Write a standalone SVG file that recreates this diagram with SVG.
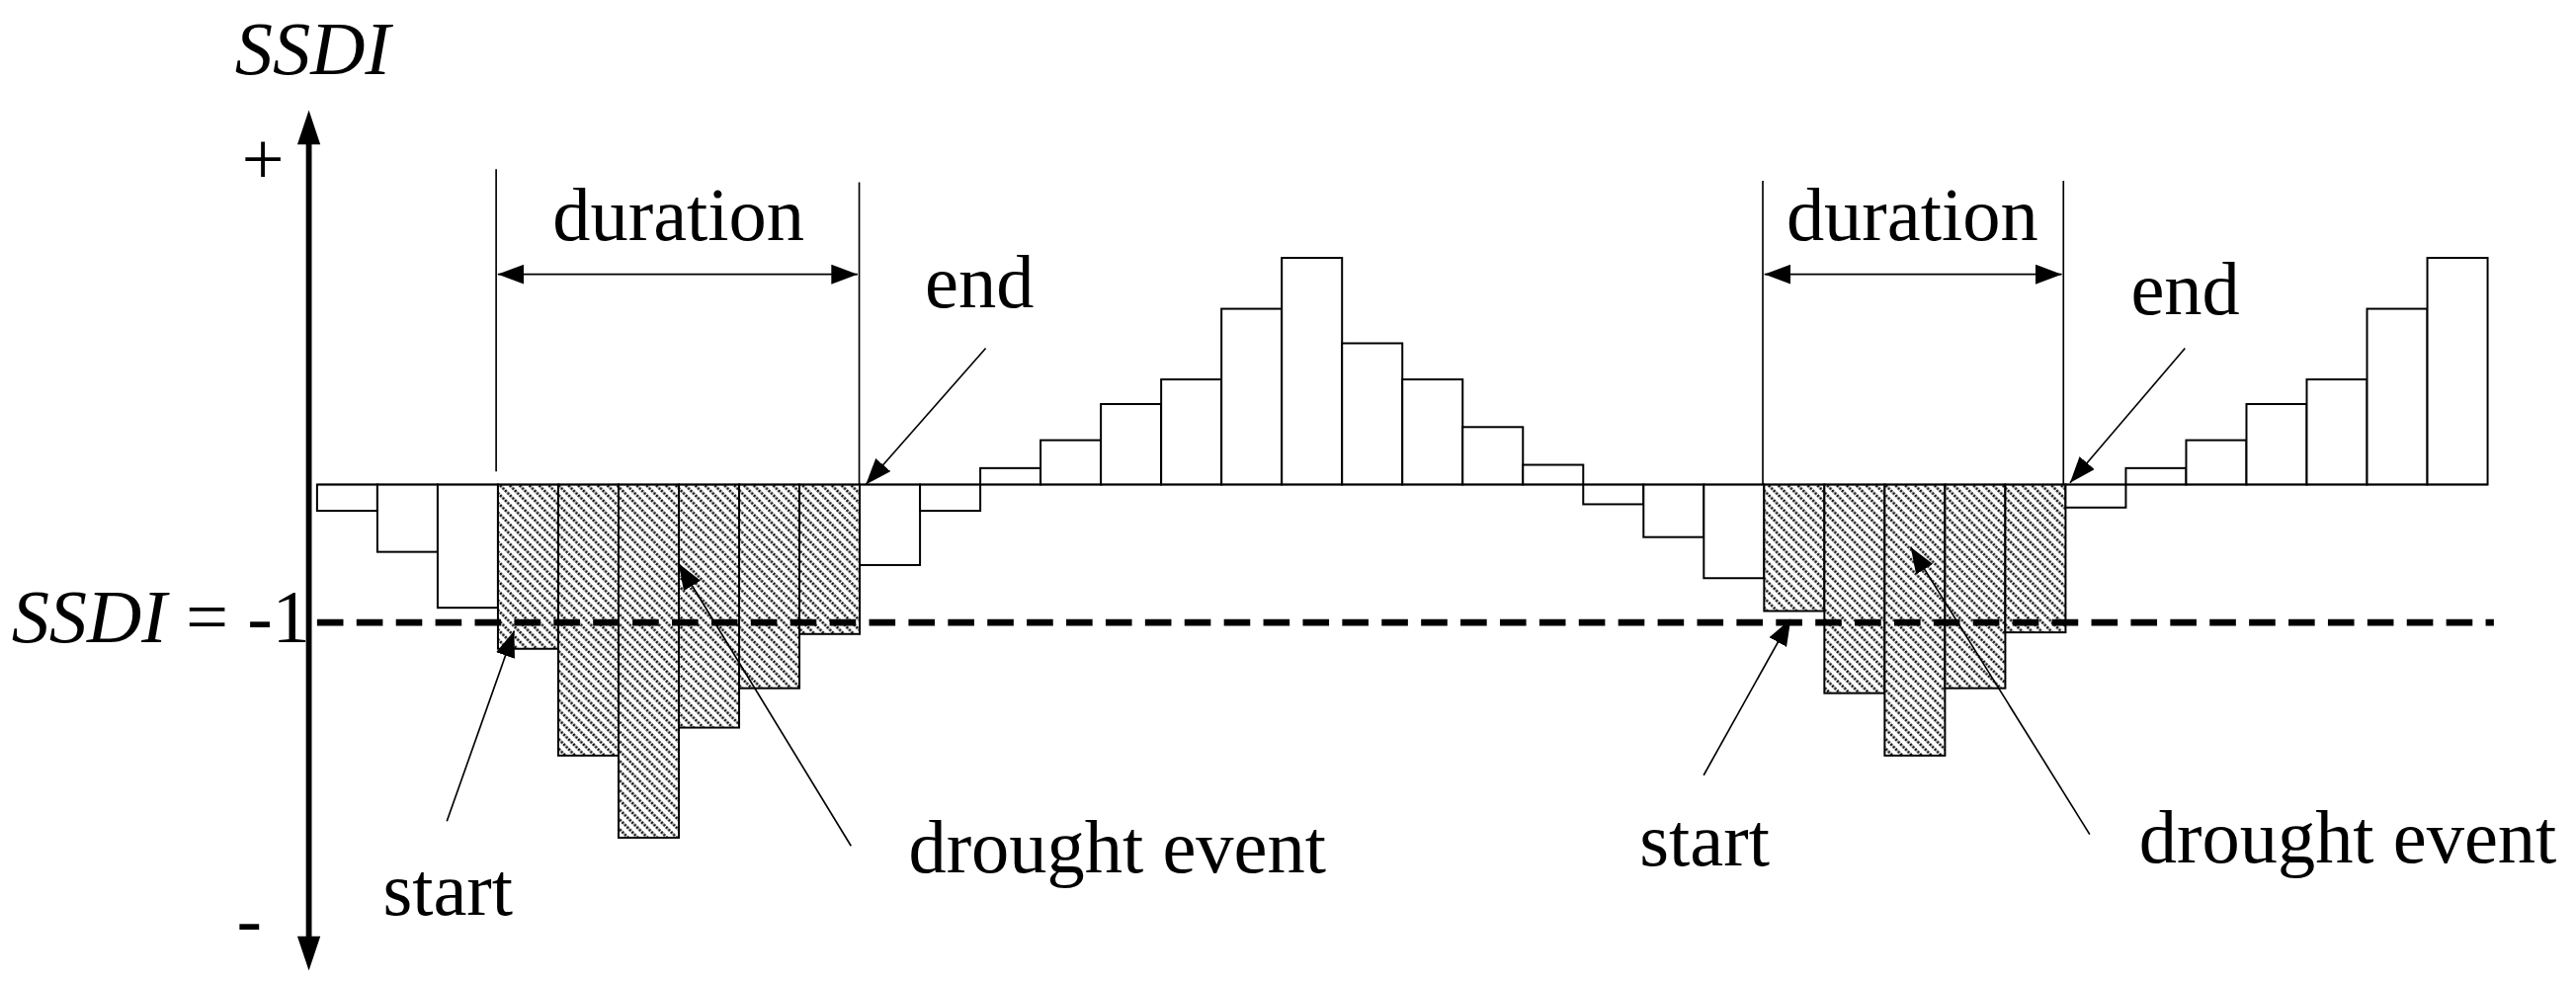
<svg xmlns="http://www.w3.org/2000/svg" width="2607" height="993" viewBox="0 0 2607 993">
<style>
.bar{fill:#fff;stroke:#000;stroke-width:1.2}
.hb{fill:url(#hatch);stroke:#000;stroke-width:1.2}
.ln{stroke:#000;stroke-width:1;fill:none}
.t{font-family:"Liberation Serif",serif;font-size:46px;fill:#000}
.i{font-style:italic}
</style>
<defs>
<pattern id="hatch" patternUnits="userSpaceOnUse" width="4.2" height="4.2" patternTransform="rotate(-45)">
<rect width="4.2" height="4.2" fill="#fff"/>
<line x1="2.1" y1="0" x2="2.1" y2="4.2" stroke="#000" stroke-width="1.5" stroke-dasharray="1.3 0.8"/>
</pattern>
<marker id="ah" markerUnits="userSpaceOnUse" markerWidth="16" markerHeight="12" refX="16" refY="6" orient="auto-start-reverse">
<path d="M0,0 L16,6 L0,12 Z" fill="#000"/>
</marker>
</defs>
<rect width="2607" height="993" fill="#fff"/>
<g transform="scale(1.66263)">
<g id="bars">
<rect class="bar" x="193" y="295" width="36.7" height="16"/>
<rect class="bar" x="229.7" y="295" width="36.7" height="41"/>
<rect class="bar" x="266.4" y="295" width="36.7" height="75"/>
<rect class="hb" x="303.1" y="295" width="36.7" height="100"/>
<rect class="hb" x="339.8" y="295" width="36.7" height="165"/>
<rect class="hb" x="376.5" y="295" width="36.7" height="215"/>
<rect class="hb" x="413.2" y="295" width="36.7" height="148"/>
<rect class="hb" x="449.9" y="295" width="36.7" height="124"/>
<rect class="hb" x="486.6" y="295" width="36.7" height="91"/>
<rect class="bar" x="523.3" y="295" width="36.7" height="49"/>
<rect class="bar" x="560" y="295" width="36.7" height="16"/>
<rect class="bar" x="596.7" y="285" width="36.7" height="10"/>
<rect class="bar" x="633.4" y="268" width="36.7" height="27"/>
<rect class="bar" x="670.1" y="246" width="36.7" height="49"/>
<rect class="bar" x="706.8" y="231" width="36.7" height="64"/>
<rect class="bar" x="743.5" y="188" width="36.7" height="107"/>
<rect class="bar" x="780.2" y="157" width="36.7" height="138"/>
<rect class="bar" x="816.9" y="209" width="36.7" height="86"/>
<rect class="bar" x="853.6" y="231" width="36.7" height="64"/>
<rect class="bar" x="890.3" y="260" width="36.7" height="35"/>
<rect class="bar" x="927" y="283" width="36.7" height="12"/>
<rect class="bar" x="963.7" y="295" width="36.7" height="12"/>
<rect class="bar" x="1000.4" y="295" width="36.7" height="32"/>
<rect class="bar" x="1037.1" y="295" width="36.7" height="57"/>
<rect class="hb" x="1073.8" y="295" width="36.7" height="77"/>
<rect class="hb" x="1110.5" y="295" width="36.7" height="127"/>
<rect class="hb" x="1147.2" y="295" width="36.7" height="165"/>
<rect class="hb" x="1183.9" y="295" width="36.7" height="124"/>
<rect class="hb" x="1220.6" y="295" width="36.7" height="90"/>
<rect class="bar" x="1257.3" y="295" width="36.7" height="14"/>
<rect class="bar" x="1294" y="285" width="36.7" height="10"/>
<rect class="bar" x="1330.7" y="268" width="36.7" height="27"/>
<rect class="bar" x="1367.4" y="246" width="36.7" height="49"/>
<rect class="bar" x="1404.1" y="231" width="36.7" height="64"/>
<rect class="bar" x="1440.8" y="188" width="36.7" height="107"/>
<rect class="bar" x="1477.5" y="157" width="36.7" height="138"/>
<line class="ln" x1="193" y1="295" x2="1514.2" y2="295" stroke-width="1.2"/>
</g>
<g id="threshold">
<line x1="193" y1="379" x2="1518" y2="379" stroke="#000" stroke-width="4" stroke-dasharray="16 8"/>
</g>
<g id="axis">
<line x1="188" y1="80" x2="188" y2="578" stroke="#000" stroke-width="3.5"/>
<path d="M188,67 L181,88 L195,88 Z M188,591 L181,570 L195,570 Z" fill="#000"/>
</g>
<g id="connectors">
<line class="ln" x1="302" y1="103" x2="302" y2="287"/>
<line class="ln" x1="523" y1="111" x2="523" y2="295"/>
<line class="ln" x1="303" y1="167" x2="522" y2="167" marker-start="url(#ah)" marker-end="url(#ah)"/>
<line class="ln" x1="1073" y1="110" x2="1073" y2="295"/>
<line class="ln" x1="1256" y1="110" x2="1256" y2="295"/>
<line class="ln" x1="1074" y1="167" x2="1255" y2="167" marker-start="url(#ah)" marker-end="url(#ah)"/>
<line class="ln" x1="600" y1="212" x2="527" y2="295" marker-end="url(#ah)"/>
<line class="ln" x1="1330" y1="212" x2="1260" y2="294" marker-end="url(#ah)"/>
<line class="ln" x1="272" y1="500" x2="313" y2="384" marker-end="url(#ah)"/>
<line class="ln" x1="1037" y1="472" x2="1090" y2="377" marker-end="url(#ah)"/>
<line class="ln" x1="518" y1="515" x2="413" y2="343" marker-end="url(#ah)"/>
<line class="ln" x1="1272" y1="508" x2="1163" y2="333" marker-end="url(#ah)"/>
</g>
<g id="labels">
<text class="t i" x="143" y="45" font-size="52">SSDI</text>
<text class="t" x="147" y="112" font-size="38">+</text>
<text class="t" x="144" y="575" font-size="38">-</text>
<text class="t" x="7" y="391" font-size="31"><tspan class="i">SSDI</tspan> = -1</text>
<text class="t" x="413" y="146" text-anchor="middle">duration</text>
<text class="t" x="1164" y="146" text-anchor="middle">duration</text>
<text class="t" x="563" y="187">end</text>
<text class="t" x="1297" y="191">end</text>
<text class="t" x="233" y="557">start</text>
<text class="t" x="998" y="527">start</text>
<text class="t" x="553" y="531">drought event</text>
<text class="t" x="1302" y="525">drought event</text>
</g>
</g>
</svg>
